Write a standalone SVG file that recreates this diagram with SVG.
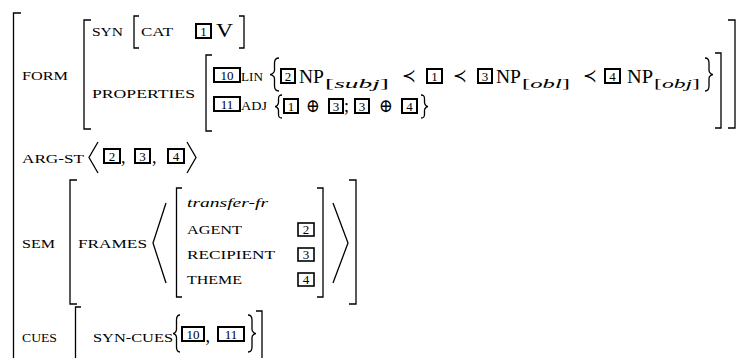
<svg xmlns="http://www.w3.org/2000/svg" width="738" height="358" viewBox="0 0 738 358">
<style>
.lab{font-family:"Liberation Serif",serif;font-size:12px;fill:#000}
.rm{font-family:"Liberation Serif",serif;font-size:18px;fill:#000}
.sub{font-family:"Liberation Serif",serif;font-size:13px;fill:#000}
.it{font-style:italic}
.dg{font-family:"Liberation Serif",serif;font-size:13px;fill:#000;text-anchor:middle}
.sym{font-family:"DejaVu Serif",serif;font-size:19px;fill:#000}
.br{fill:none;stroke:#000;stroke-width:1.3}
.bx{fill:none;stroke:#000;stroke-width:2}
.bxs{fill:none;stroke:#000;stroke-width:1.6}
</style>
<rect width="738" height="358" fill="#fff"/>
<g id="brackets" class="br">
<path d="M21,13 H13.5 V358"/>
<path d="M91,20 H84 V129 H91"/>
<path d="M728,20 H735 V128 H728"/>
<path d="M139,16 H134 V48 H139"/>
<path d="M239,16 H244 V48 H239"/>
<path d="M212,55 H206 V131 H212"/>
<path d="M715,53 H721 V128 H715"/>
<path d="M77,180 H70 V304 H77"/>
<path d="M349,180 H356 V304 H349"/>
<path d="M182,188 H176.5 V297 H182"/>
<path d="M317,188 H323 V297 H317"/>
<path d="M81,307 H75.5 V358"/>
<path d="M256,311 H262 V358"/>
</g>
<g id="form">
<text class="lab" x="22" y="80" textLength="46" lengthAdjust="spacingAndGlyphs">FORM</text>
</g>
<g id="syn">
<text class="lab" x="92" y="36" textLength="31" lengthAdjust="spacingAndGlyphs">SYN</text>
<text class="lab" x="141" y="36" textLength="32" lengthAdjust="spacingAndGlyphs">CAT</text>
<rect class="bx" x="196" y="24" width="15" height="14"/>
<text class="dg" x="203.5" y="35.5">1</text>
<text class="rm" x="216" y="37" textLength="17" lengthAdjust="spacingAndGlyphs">V</text>
</g>
<g id="properties">
<text class="lab" x="92" y="98" textLength="103" lengthAdjust="spacingAndGlyphs">PROPERTIES</text>
</g>
<g id="lin">
<rect class="bx" x="214" y="68" width="26" height="14"/>
<text class="dg" x="227" y="79.5">10</text>
<text class="lab" x="241" y="81" textLength="22" lengthAdjust="spacingAndGlyphs">LIN</text>
<path class="br" stroke-width="1.4" d="M279,58 C274.5,58 274.5,61 274.5,63 V70.5 C274.5,73 271,74.5 270,74.5 C271,74.5 274.5,76 274.5,78.5 V86 C274.5,88 274.5,91 279,91"/>
<rect class="bx" x="281" y="69" width="14" height="14"/>
<text class="dg" x="288" y="80.5">2</text>
<text class="rm" x="299" y="83" textLength="25" lengthAdjust="spacingAndGlyphs">NP</text>
<text class="sub" x="325" y="88" textLength="64" lengthAdjust="spacingAndGlyphs">[<tspan class="it">subj</tspan>]</text>
<text class="sym" x="402" y="82" textLength="14" lengthAdjust="spacingAndGlyphs">≺</text>
<rect class="bx" x="427" y="69" width="15" height="14"/>
<text class="dg" x="434.5" y="80.5">1</text>
<text class="sym" x="453" y="82" textLength="14" lengthAdjust="spacingAndGlyphs">≺</text>
<rect class="bx" x="478" y="69" width="14" height="14"/>
<text class="dg" x="485" y="80.5">3</text>
<text class="rm" x="496" y="83" textLength="25" lengthAdjust="spacingAndGlyphs">NP</text>
<text class="sub" x="522" y="88" textLength="48" lengthAdjust="spacingAndGlyphs">[<tspan class="it">obl</tspan>]</text>
<text class="sym" x="583" y="82" textLength="14" lengthAdjust="spacingAndGlyphs">≺</text>
<rect class="bx" x="605" y="69" width="15" height="14"/>
<text class="dg" x="612.5" y="80.5">4</text>
<text class="rm" x="627" y="83" textLength="26" lengthAdjust="spacingAndGlyphs">NP</text>
<text class="sub" x="654" y="88" textLength="46" lengthAdjust="spacingAndGlyphs">[<tspan class="it">obj</tspan>]</text>
<path class="br" stroke-width="1.4" d="M705,58 C709,58 709,61 709,63 V70.5 C709,73 712,74.5 713,74.5 C712,74.5 709,76 709,78.5 V86 C709,88 709,91 705,91"/>
</g>
<g id="adj">
<rect class="bx" x="214" y="97" width="26" height="14"/>
<text class="dg" x="227" y="108.5">11</text>
<text class="lab" x="241" y="110" textLength="26" lengthAdjust="spacingAndGlyphs">ADJ</text>
<path class="br" stroke-width="1.4" d="M282,95 C278.5,95 278.5,97 278.5,99 V102.5 C278.5,105 276,106.5 275,106.5 C276,106.5 278.5,108 278.5,110.5 V114 C278.5,116 278.5,118 282,118"/>
<rect class="bx" x="284" y="99" width="14" height="14"/>
<text class="dg" x="291" y="110.5">1</text>
<text class="sym" x="306" y="112" font-size="17" textLength="14" lengthAdjust="spacingAndGlyphs">⊕</text>
<rect class="bx" x="329" y="99" width="14" height="14"/>
<text class="dg" x="336" y="110.5">3</text>
<text class="rm" x="344" y="112" font-size="16">;</text>
<rect class="bx" x="355" y="99" width="14" height="14"/>
<text class="dg" x="362" y="110.5">3</text>
<text class="sym" x="379" y="112" font-size="17" textLength="14" lengthAdjust="spacingAndGlyphs">⊕</text>
<rect class="bx" x="402" y="99" width="15" height="14"/>
<text class="dg" x="409.5" y="110.5">4</text>
<path class="br" stroke-width="1.4" d="M421,95 C424.5,95 424.5,97 424.5,99 V102.5 C424.5,105 427,106.5 428,106.5 C427,106.5 424.5,108 424.5,110.5 V114 C424.5,116 424.5,118 421,118"/>
</g>
<g id="arg-st">
<text class="lab" x="22" y="163" textLength="62" lengthAdjust="spacingAndGlyphs">ARG-ST</text>
<polyline class="br" points="98,142 89,157.5 98,173"/>
<rect class="bx" x="104" y="149" width="16" height="14"/>
<text class="dg" x="112" y="160.5">2</text>
<text class="rm" x="121" y="163" font-size="16">,</text>
<rect class="bx" x="135" y="149" width="15" height="14"/>
<text class="dg" x="142.5" y="160.5">3</text>
<text class="rm" x="152" y="163" font-size="16">,</text>
<rect class="bx" x="168" y="149" width="16" height="14"/>
<text class="dg" x="176" y="160.5">4</text>
<polyline class="br" points="187,142 196,157.5 187,173"/>
</g>
<g id="sem">
<text class="lab" x="22" y="248" textLength="33" lengthAdjust="spacingAndGlyphs">SEM</text>
<text class="lab" x="78" y="248" textLength="69" lengthAdjust="spacingAndGlyphs">FRAMES</text>
<polyline class="br" points="166,203 153,243 166,283"/>
<polyline class="br" points="333,203 348,243 333,283"/>
</g>
<g id="frame">
<text class="sub it" x="187" y="207" font-size="13" textLength="81" lengthAdjust="spacingAndGlyphs">transfer-fr</text>
<text class="lab" x="187" y="234" textLength="55" lengthAdjust="spacingAndGlyphs">AGENT</text>
<rect class="bxs" x="298" y="223" width="16" height="13"/>
<text class="dg" x="306" y="233.5">2</text>
<text class="lab" x="187" y="259" textLength="88" lengthAdjust="spacingAndGlyphs">RECIPIENT</text>
<rect class="bxs" x="298" y="248" width="16" height="13"/>
<text class="dg" x="306" y="258.5">3</text>
<text class="lab" x="187" y="284" textLength="55" lengthAdjust="spacingAndGlyphs">THEME</text>
<rect class="bxs" x="298" y="273" width="16" height="13"/>
<text class="dg" x="306" y="283.5">4</text>
</g>
<g id="cues">
<text class="lab" x="22" y="342" textLength="35" lengthAdjust="spacingAndGlyphs">CUES</text>
<text class="lab" x="93" y="342" textLength="80" lengthAdjust="spacingAndGlyphs">SYN-CUES</text>
<path class="br" stroke-width="1.4" d="M180,315 C176.5,315 176.5,318 176.5,320 V329.5 C176.5,332 174,333.5 173,333.5 C174,333.5 176.5,335 176.5,337.5 V347 C176.5,349 176.5,352 180,352"/>
<rect class="bx" x="182" y="327" width="22" height="14"/>
<text class="dg" x="193" y="338.5">10</text>
<text class="rm" x="205.5" y="342" font-size="16">,</text>
<rect class="bx" x="218" y="327" width="26" height="14"/>
<text class="dg" x="231" y="338.5">11</text>
<path class="br" stroke-width="1.4" d="M248,315 C252,315 252,318 252,320 V329.5 C252,332 255,333.5 256,333.5 C255,333.5 252,335 252,337.5 V347 C252,349 252,352 248,352"/>
</g>
</svg>
